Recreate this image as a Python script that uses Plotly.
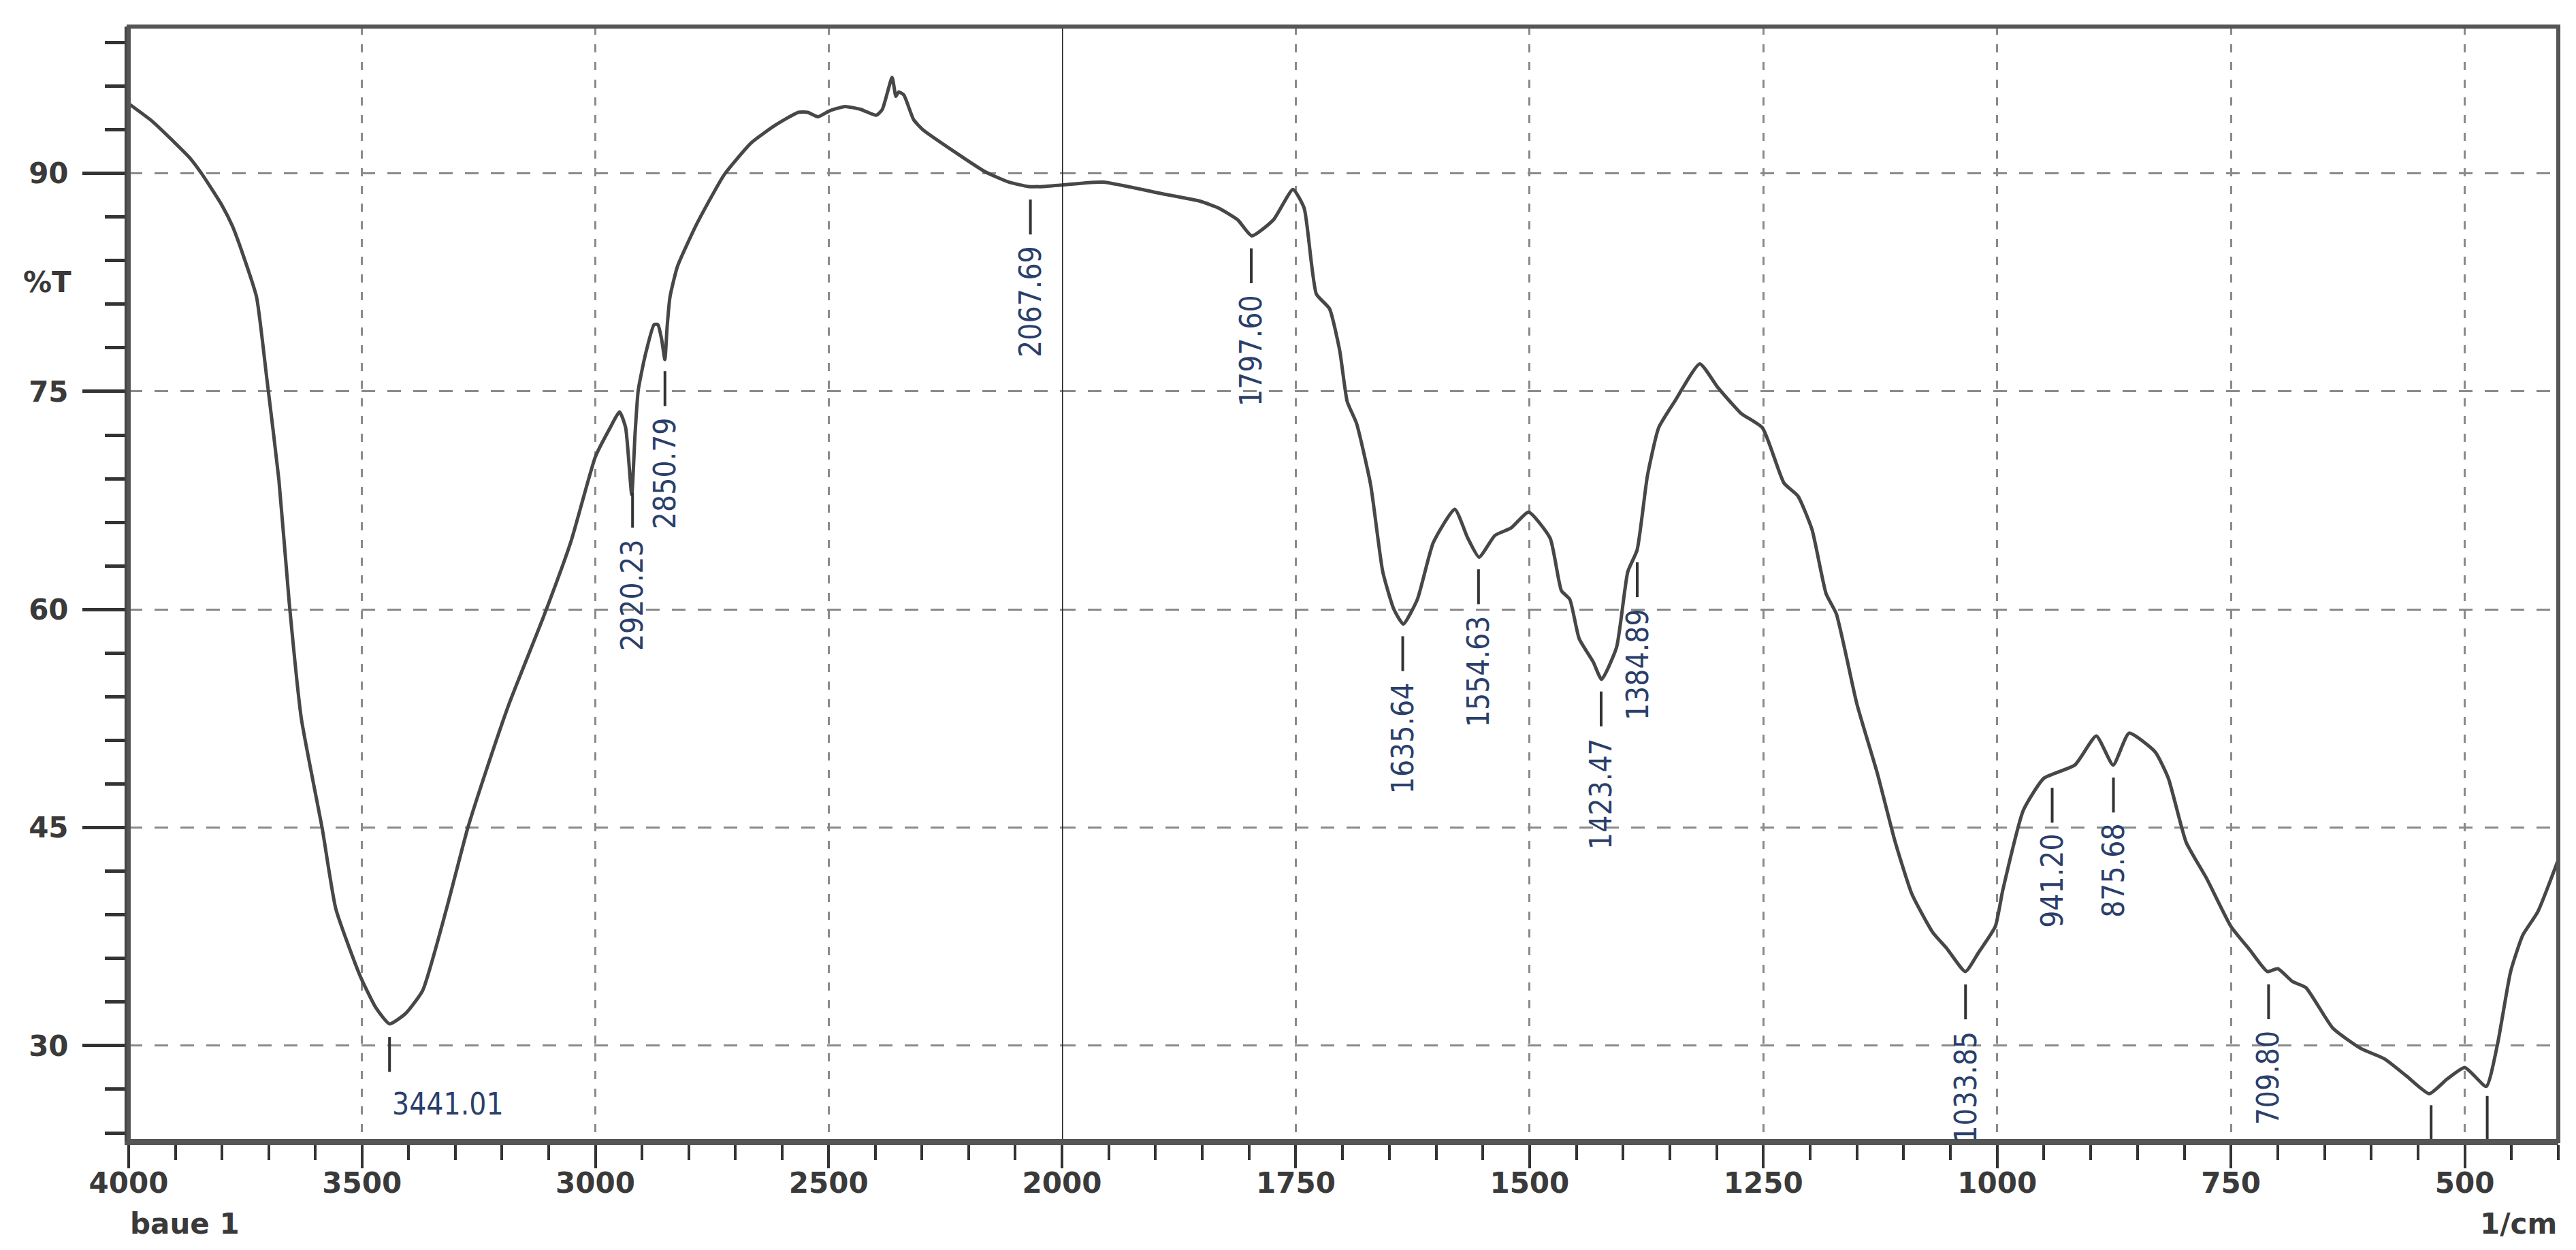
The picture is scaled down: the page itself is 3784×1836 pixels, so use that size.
import numpy as np
import plotly.graph_objects as go

# ---------------- data ----------------
wavenumber = [4000, 3950, 3904, 3870, 3844, 3800, 3778, 3756, 3726, 3704, 3678, 3656, 3630, 3585, 3556,
              3504, 3470, 3441, 3407, 3370, 3319, 3274, 3230, 3185, 3111, 3052, 3000, 2970, 2948, 2935,
              2922, 2915, 2908, 2893, 2874, 2866, 2858, 2851, 2846, 2840, 2824, 2783, 2724, 2666, 2615,
              2565, 2545, 2523, 2498, 2465, 2431, 2398, 2385, 2364, 2356, 2350, 2339, 2318, 2298, 2231,
              2164, 2114, 2072, 2040, 2000, 1956, 1893, 1853, 1832, 1812, 1797, 1774, 1753, 1741, 1728,
              1714, 1703, 1695, 1685, 1670, 1657, 1645, 1635, 1620, 1603, 1580, 1566, 1554, 1537, 1520,
              1501, 1478, 1466, 1457, 1447, 1432, 1423, 1407, 1395, 1385, 1374, 1362, 1345, 1318, 1299,
              1274, 1251, 1228, 1213, 1198, 1183, 1172, 1150, 1128, 1109, 1091, 1069, 1054, 1034, 1020,
              1002, 994, 972, 950, 917, 894, 876, 859, 831, 817, 798, 776, 750, 730, 711,
              700, 684, 670, 641, 611, 586, 562, 538, 519, 500, 477, 465, 451, 438, 422, 400]
transmittance = [94.8, 93.6, 92.2, 91.1, 90.0, 87.8, 86.4, 84.5, 81.5, 75.9, 68.9, 60.5, 52.5, 44.9, 39.4,
                 34.8, 32.6, 31.5, 32.2, 33.8, 39.4, 44.9, 49.3, 53.5, 59.5, 64.7, 70.5, 72.4, 73.6, 72.5,
                 67.9, 72.0, 75.1, 77.5, 79.6, 79.6, 78.6, 77.2, 79.5, 81.5, 83.6, 86.5, 89.9, 92.1, 93.3,
                 94.2, 94.2, 93.9, 94.3, 94.6, 94.4, 94.0, 94.4, 96.6, 95.3, 95.6, 95.4, 93.7, 93.0, 91.5,
                 90.1, 89.4, 89.1, 89.1, 89.2, 89.4, 88.6, 88.1, 87.6, 86.8, 85.7, 86.8, 88.9, 87.6, 81.7,
                 80.7, 77.8, 74.3, 72.8, 68.6, 62.6, 60.0, 59.0, 60.7, 64.6, 66.9, 64.9, 63.6, 65.1, 65.6,
                 66.7, 64.9, 61.3, 60.7, 58.0, 56.4, 55.2, 57.4, 62.6, 64.1, 69.2, 72.5, 74.3, 76.9, 75.3,
                 73.5, 72.5, 68.7, 67.8, 65.5, 61.1, 59.7, 53.5, 48.7, 44.0, 40.4, 37.8, 36.7, 35.1, 36.4,
                 38.2, 40.7, 46.2, 48.4, 49.3, 51.3, 49.3, 51.5, 50.2, 48.4, 44.0, 41.5, 38.2, 36.6, 35.1,
                 35.3, 34.4, 34.0, 31.2, 29.8, 29.1, 27.9, 26.7, 27.7, 28.5, 27.2, 30.1, 35.1, 37.6, 39.2, 42.8]

peak_wavenumbers = [3441.01, 2920.23, 2850.79, 2067.69, 1797.60, 1635.64, 1554.63, 1423.47, 1384.89,
                    1033.85, 941.20, 875.68, 709.80]
peak_labels = ["3441.01", "2920.23", "2850.79", "2067.69", "1797.60", "1635.64", "1554.63", "1423.47",
               "1384.89", "1033.85", "941.20", "875.68", "709.80"]
unlabeled_peaks = [536, 476]

left_ticks = [4000, 3500, 3000, 2500]
right_ticks = [2000, 1750, 1500, 1250, 1000, 750, 500]
y_ticks = [30, 45, 60, 75, 90]

# ---------------- figure ----------------
wn = np.array(wavenumber, dtype=float)
tr = np.array(transmittance, dtype=float)
left_mask = wn >= 2000
right_mask = wn <= 2000

Y_MIN, Y_MAX = 23.44, 100.1
SPLIT = (1552 - 181) / (3750 - 181)

fig = go.Figure()
line_style = dict(color="#474747", width=5, shape="spline", smoothing=0.5)
fig.add_trace(go.Scatter(x=wn[left_mask], y=tr[left_mask], mode="lines", line=line_style,
                         xaxis="x", yaxis="y", showlegend=False, hoverinfo="skip"))
fig.add_trace(go.Scatter(x=wn[right_mask], y=tr[right_mask], mode="lines", line=line_style,
                         xaxis="x2", yaxis="y", showlegend=False, hoverinfo="skip"))


def t_at(w):
    return float(np.interp(w, wn[::-1], tr[::-1]))


shapes = []
annotations = []
label_font = dict(family="DejaVu Sans Condensed, Liberation Sans Narrow, sans-serif",
                  size=44, color="#2b3f6b")
for w, lab in zip(peak_wavenumbers, peak_labels):
    xr = "x" if w >= 2000 else "x2"
    t = t_at(w)
    shapes.append(dict(type="line", xref=xr, yref="y", x0=w, x1=w, y0=t - 0.9, y1=t - 3.3,
                       line=dict(color="#333333", width=4)))
    if lab == "3441.01":
        annotations.append(dict(x=w - 2, y=t - 5.5, xref=xr, yref="y", text=lab, showarrow=False,
                                xanchor="left", yanchor="middle", font=label_font))
    else:
        annotations.append(dict(x=w, y=t - 4.0, xref=xr, yref="y", text=lab, showarrow=False,
                                textangle=-90, xanchor="center", yanchor="top", font=label_font))
for w in unlabeled_peaks:
    t = t_at(w)
    shapes.append(dict(type="line", xref="x2", yref="y", x0=w, x1=w, y0=t - 0.9, y1=Y_MIN,
                       line=dict(color="#333333", width=4)))

# boundary line at 2000
shapes.append(dict(type="line", xref="x2", yref="paper", x0=2000, x1=2000, y0=0, y1=1,
                   line=dict(color="#222222", width=3)))
# frame
shapes.append(dict(type="rect", xref="paper", yref="paper", x0=0, x1=1, y0=0, y1=1,
                   line=dict(color="#555555", width=6)))

tick_font = dict(family="DejaVu Sans", size=42, color="#3a3a3a", weight="bold")
annotations += [
    dict(x=-0.0336, y=82.5, xref="paper", yref="y", text="%T", showarrow=False,
         xanchor="center", yanchor="middle", font=tick_font),
    dict(x=0.0, y=-0.074, xref="paper", yref="paper", text="baue 1", showarrow=False,
         xanchor="left", yanchor="middle", font=tick_font),
    dict(x=1.0, y=-0.074, xref="paper", yref="paper", text="1/cm", showarrow=False,
         xanchor="right", yanchor="middle", font=tick_font),
]

common_x = dict(showline=True, linewidth=6, linecolor="#555555", ticks="outside", ticklen=34,
                tickwidth=4, tickcolor="#333333", tickfont=tick_font, ticklabelstandoff=-14,
                showgrid=True, gridcolor="#8a8a8a", gridwidth=3, griddash="12px,14px",
                zeroline=False, anchor="y")

fig.update_layout(
    width=3784, height=1836,
    margin=dict(l=181, r=34, t=31, b=168),
    paper_bgcolor="white", plot_bgcolor="white",
    xaxis=dict(domain=[0, SPLIT], range=[4000, 2000], tickvals=left_ticks,
               minor=dict(dtick=100, tick0=0, ticks="outside", ticklen=22, tickwidth=4,
                          tickcolor="#333333", showgrid=False),
               **common_x),
    xaxis2=dict(domain=[SPLIT, 1], range=[2000, 400], tickvals=right_ticks,
                minor=dict(dtick=50, tick0=0, ticks="outside", ticklen=22, tickwidth=4,
                           tickcolor="#333333", showgrid=False),
                **common_x),
    yaxis=dict(range=[Y_MIN, Y_MAX], tickvals=y_ticks, showline=True, linewidth=6,
               linecolor="#444444", ticks="outside", ticklen=62, tickwidth=5, tickcolor="#333333",
               tickfont=tick_font, ticklabelstandoff=12, showgrid=True, gridcolor="#8a8a8a",
               gridwidth=3, griddash="20px,18px", zeroline=False, anchor="x",
               minor=dict(dtick=3, tick0=0, ticks="outside", ticklen=29, tickwidth=5,
                          tickcolor="#333333", showgrid=False)),
    shapes=shapes,
    annotations=annotations,
    font=dict(family="DejaVu Sans"),
)

fig.write_html("out.html")
